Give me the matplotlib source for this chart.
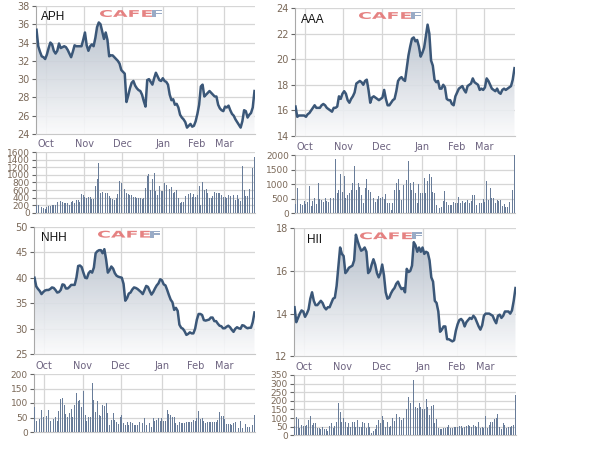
import numpy as np
import matplotlib
matplotlib.use("Agg")
import matplotlib.pyplot as plt
from matplotlib.colors import LinearSegmentedColormap
from matplotlib.patches import Polygon, PathPatch
from matplotlib.textpath import TextPath
from matplotlib.font_manager import FontProperties
from matplotlib.transforms import Affine2D

# ---------------- data ----------------
months = ["Oct", "Nov", "Dec", "Jan", "Feb", "Mar"]
month_pos = [5.5, 27.5, 49.5, 73, 92.5, 108.5]

aph_price = [
    35.4, 33.6, 33.0, 32.5, 32.4, 32.2, 32.7, 33.4, 34.0, 33.8,
    33.1, 32.8, 33.1, 33.9, 33.4, 33.5, 33.6, 33.5, 33.2, 32.8,
    32.4, 33.0, 33.7, 33.6, 33.6, 33.6, 33.6, 34.3, 35.1, 33.7,
    33.1, 33.6, 33.8, 33.6, 34.5, 35.7, 36.2, 36.0, 35.2, 34.4,
    35.1, 34.3, 32.5, 32.6, 32.6, 32.4, 32.2, 32.0, 31.7, 31.0,
    30.8, 30.6, 27.5, 28.2, 29.0, 29.6, 29.8, 29.3, 29.0, 28.8,
    28.7, 28.3, 27.6, 27.0, 29.9, 30.0, 29.7, 29.4, 30.1, 30.7,
    30.3, 29.9, 29.8, 30.1, 29.8, 29.7, 29.4, 28.3, 27.7, 27.8,
    27.2, 27.3, 26.9, 26.1, 25.8, 25.6, 25.3, 24.7, 24.9, 25.1,
    24.8, 24.9, 25.4, 26.2, 27.2, 29.2, 29.4, 28.1, 28.3, 28.5,
    28.7, 28.5, 28.3, 28.1, 28.1, 27.2, 26.8, 26.6, 26.5, 27.0,
    26.9, 27.1, 26.6, 26.2, 26.0, 25.6, 25.3, 25.0, 24.7, 25.4,
    26.6, 26.5, 25.8, 26.1, 26.3, 26.9, 28.7]
aph_vol = [
    200, 220, 180, 170, 120, 110, 170, 180, 180, 200,
    220, 200, 300, 180, 320, 280, 270, 260, 270, 220,
    300, 320, 250, 350, 340, 300, 500, 480, 420, 400,
    430, 420, 380, 380, 700, 900, 1320, 520, 560, 510,
    520, 530, 440, 400, 380, 350, 400, 500, 830, 780,
    600, 620, 520, 500, 480, 470, 420, 410, 400, 400,
    390, 380, 400, 660, 980, 1030, 600, 900, 1040, 580,
    460, 720, 580, 590, 780, 740, 800, 640, 680, 520,
    560, 600, 400, 270, 300, 300, 450, 500, 500, 520,
    430, 500, 420, 480, 700, 200, 810, 600, 640, 530,
    400, 400, 450, 550, 520, 520, 520, 480, 430, 430,
    400, 470, 450, 360, 480, 350, 460, 360, 320, 1220,
    600, 450, 450, 630, 590, 1180, 1480]

aaa_price = [
    16.3, 15.5, 15.6, 15.6, 15.6, 15.6, 15.5, 15.7, 15.8, 16.0,
    16.2, 16.4, 16.2, 16.2, 16.2, 16.4, 16.5, 16.4, 16.2, 16.1,
    16.0, 15.9, 16.2, 16.2, 16.3, 17.1, 16.9, 17.3, 17.5, 17.3,
    16.8, 16.6, 16.9, 17.1, 17.4, 18.1, 18.2, 18.3, 18.2, 18.0,
    18.3, 18.4, 17.6, 16.6, 17.0, 17.1, 17.0, 16.9, 16.8, 16.9,
    17.0, 17.6, 16.9, 16.4, 16.4, 16.6, 16.8, 16.9, 17.5, 18.3,
    18.5, 18.6, 18.4, 18.3, 19.3, 20.3, 21.0, 21.6, 21.7, 21.4,
    21.5, 21.0, 20.2, 20.5, 20.9, 21.8, 22.7, 22.0, 19.9, 19.5,
    18.4, 18.2, 18.3, 17.7, 17.7, 18.0, 17.8, 16.9, 16.8, 16.8,
    16.5, 16.4, 17.1, 17.4, 17.7, 17.8, 17.9, 17.6, 17.4, 17.9,
    18.0, 18.1, 18.5, 18.2, 18.1, 18.0, 17.6, 17.7, 17.6, 17.8,
    18.5, 18.3, 18.0, 17.7, 17.6, 17.5, 17.7, 17.4, 17.3, 17.6,
    17.7, 17.6, 17.7, 17.8, 17.9, 18.4, 19.3]
aaa_vol = [
    320, 860, 670, 320, 280, 440, 320, 400, 940, 250,
    440, 520, 320, 1060, 480, 460, 400, 520, 440, 400,
    520, 345, 520, 1860, 690, 800, 1360, 750, 1290, 520,
    630, 710, 800, 1030, 1630, 800, 1030, 920, 630, 345,
    860, 1200, 800, 750, 345, 520, 400, 480, 600, 520,
    575, 480, 670, 345, 345, 115, 345, 800, 1060, 1170,
    800, 460, 980, 1520, 1150, 1820, 1030, 800, 1090, 710,
    345, 1010, 710, 710, 1220, 710, 1130, 1360, 1260, 750,
    710, 290, 290, 170, 230, 440, 780, 400, 290, 290,
    290, 400, 345, 370, 550, 345, 440, 370, 400, 460,
    370, 440, 630, 630, 290, 860, 370, 345, 480, 400,
    1130, 460, 860, 520, 520, 345, 460, 440, 460, 250,
    320, 230, 230, 400, 440, 800, 2000]

nhh_price = [
    40.0, 38.3, 37.8, 37.4, 36.8, 37.2, 37.5, 37.6, 37.6, 37.8,
    38.1, 38.0, 37.6, 37.1, 37.2, 37.6, 38.7, 38.6, 37.9, 37.9,
    38.2, 38.6, 38.6, 38.6, 40.0, 42.3, 42.4, 42.1, 41.0, 40.0,
    39.9, 40.9, 41.3, 41.0, 42.0, 44.8, 45.2, 45.4, 45.4, 44.8,
    45.6, 43.6, 41.0, 41.5, 42.2, 41.8, 40.9, 40.4, 40.2, 40.1,
    40.0, 38.8, 35.5, 36.0, 36.9, 37.1, 37.7, 38.1, 38.0, 37.8,
    37.5, 37.2, 36.8, 37.6, 38.4, 38.2, 37.4, 36.7, 37.2, 37.9,
    38.5, 38.9, 39.7, 39.5, 38.7, 38.5, 37.6, 36.6, 35.7, 35.2,
    33.7, 34.1, 33.5, 30.8, 30.2, 30.0, 29.5, 28.8, 29.0, 29.3,
    29.1, 29.1, 30.0, 31.8, 32.9, 32.9, 32.7, 31.7, 31.6, 31.7,
    31.8, 32.2, 32.2, 31.5, 31.5, 31.0, 30.6, 30.5, 30.1, 30.1,
    30.4, 30.6, 30.3, 29.8, 29.4, 30.0, 30.3, 30.1, 30.0, 30.7,
    30.6, 30.3, 30.1, 30.2, 30.2, 31.3, 33.2]
nhh_vol = [
    85, 39, 41, 45, 76, 51, 44, 55, 76, 39,
    39, 44, 51, 39, 74, 113, 116, 92, 62, 53,
    64, 78, 51, 93, 133, 106, 110, 85, 143, 59,
    39, 51, 53, 168, 110, 70, 106, 59, 55, 93,
    91, 99, 67, 24, 41, 64, 41, 36, 28, 53,
    59, 30, 24, 34, 24, 34, 32, 23, 23, 23,
    34, 32, 32, 47, 23, 32, 32, 18, 47, 39,
    41, 47, 39, 47, 39, 39, 76, 62, 59, 53,
    51, 30, 24, 36, 30, 32, 30, 34, 34, 34,
    36, 41, 39, 47, 74, 44, 47, 39, 30, 34,
    34, 34, 34, 34, 34, 41, 70, 55, 55, 44,
    28, 28, 28, 24, 30, 34, 21, 13, 39, 13,
    28, 28, 18, 18, 18, 24, 59]

hii_price = [
    14.3, 13.6, 13.8, 14.0, 14.15, 14.1, 13.85, 14.0, 14.2, 14.7,
    15.0, 14.6, 14.4, 14.4, 14.5, 14.6, 14.5, 14.3, 14.2, 14.3,
    14.3, 14.5, 14.7, 14.75, 15.3, 16.2, 17.1, 16.8, 16.7, 15.9,
    16.0, 16.15, 16.2, 16.25, 16.5, 17.7, 17.4, 17.15, 16.95, 17.0,
    17.1, 16.9, 15.9, 16.0, 16.3, 16.55, 16.3, 15.9, 15.7, 15.9,
    16.3, 15.8, 15.0, 14.7, 14.75, 14.95, 15.1, 15.2, 15.4, 15.5,
    15.3, 15.15, 15.2, 15.0, 16.1, 15.95, 16.0, 16.25, 17.35, 17.2,
    16.9, 17.1, 16.9, 17.1, 16.8, 16.9, 16.85, 16.5, 15.7, 15.5,
    14.6, 14.5, 14.1, 13.15, 13.25, 13.4, 13.4, 12.8, 12.8, 12.75,
    12.7, 12.75, 13.2, 13.5, 13.7, 13.75, 13.65, 13.4, 13.6, 13.7,
    13.8, 13.75, 13.9, 13.8, 13.6, 13.4, 13.25, 13.45, 13.9, 14.0,
    14.0, 14.0, 13.95, 13.9, 13.7, 13.55, 13.9, 13.95, 13.8, 13.9,
    14.1, 14.1, 14.1, 14.0, 14.15, 14.6, 15.2]
hii_vol = [
    54, 106, 95, 44, 60, 54, 54, 60, 89, 112,
    60, 70, 70, 41, 41, 35, 50, 35, 35, 27,
    54, 70, 41, 54, 79, 190, 137, 79, 99, 79,
    50, 70, 50, 79, 79, 50, 89, 50, 50, 79,
    73, 41, 70, 50, 15, 27, 35, 60, 89, 70,
    112, 89, 50, 79, 50, 54, 99, 85, 124, 124,
    108, 89, 99, 259, 151, 224, 186, 176, 321, 166,
    157, 190, 166, 151, 151, 209, 166, 118, 170, 176,
    73, 93, 41, 35, 35, 41, 41, 50, 60, 41,
    41, 50, 50, 50, 54, 54, 41, 50, 54, 60,
    54, 46, 60, 54, 50, 79, 41, 50, 41, 112,
    41, 60, 79, 79, 93, 99, 124, 50, 35, 70,
    60, 41, 50, 50, 54, 60, 234]

tickers = ["APH", "AAA", "NHH", "HII"]
prices = [aph_price, aaa_price, nhh_price, hii_price]
volumes = [aph_vol, aaa_vol, nhh_vol, hii_vol]
price_ticks = [list(range(24, 39, 2)), list(range(14, 25, 2)),
               list(range(25, 51, 5)), list(range(12, 19, 2))]
vol_ticks = [list(range(0, 1601, 200)), list(range(0, 2001, 500)),
             list(range(0, 201, 50)), list(range(0, 351, 50))]

# ---------------- layout (pixels: left, top, right, bottom) ----------------
W, H = 600, 468
price_box = [(36, 6, 255, 134), (295, 8, 515, 136),
             (34, 226.7, 255, 354.3), (294, 228.3, 516, 356.3)]
vol_box = [(36, 152, 255, 213), (295, 155.3, 515, 213.3),
           (34, 374, 255, 432), (294, 375, 516, 435.3)]
label_off = [(5, 11), (6, 12), (7, 11), (12.7, 11.7)]

LINE = "#3b5778"
BAR = "#687c99"
GRID = "#d6d6d6"
YLAB = "#7a6858"
MLAB = "#6d6380"
cmap = LinearSegmentedColormap.from_list("g", ["#fbfbfc", "#a9b4c2"])

fig = plt.figure(figsize=(W / 100, H / 100), dpi=100)


def add_ax(box):
    l, t, r, b = box
    return fig.add_axes([l / W, 1 - b / H, (r - l) / W, (b - t) / H])


def style(ax):
    for s in ("top", "right"):
        ax.spines[s].set_visible(False)
    ax.spines["left"].set_color("#a8a8a8")
    ax.spines["bottom"].set_color("#c8c8c8")
    ax.grid(True, color=GRID, lw=0.9)
    ax.set_axisbelow(True)
    ax.tick_params(axis="y", length=3, width=0.8, color="#666666",
                   labelsize=7, labelcolor=YLAB, pad=1.5)
    ax.tick_params(axis="x", length=0)


def watermark(x0, y0):
    fp = FontProperties(family="DejaVu Sans", weight="bold")
    parts = [("CAFE", "#e37575", 52), ("F", "#8ea2c0", 10)]
    x = x0
    for txt, col, w in parts:
        tp = TextPath((0, 0), txt, size=10, prop=fp)
        ext = tp.get_extents()
        sx = w / ext.width
        sy = 7.0 / ext.height
        tr = Affine2D().translate(-ext.x0, -ext.y0).scale(sx, sy).translate(x, H - y0 - 7)
        patch = PathPatch(tr.transform_path(tp), facecolor=col, edgecolor="none", alpha=0.9)
        patch.set_transform(Affine2D())
        fig.add_artist(patch)
        x += w


for k in range(4):
    price = np.array(prices[k], dtype=float)
    vol = np.array(volumes[k], dtype=float)
    xp = np.arange(len(price))
    xv = np.arange(len(vol))
    xmax = max(len(price), len(vol)) - 1
    yt = price_ticks[k]
    ymin, ymax = yt[0], yt[-1]

    ax = add_ax(price_box[k])
    style(ax)
    poly = Polygon([(0, ymin)] + list(zip(xp, price)) + [(xp[-1], ymin)],
                   closed=True, facecolor="none", edgecolor="none")
    ax.add_patch(poly)
    grad = np.linspace(1, 0, 256).reshape(-1, 1)
    im = ax.imshow(grad, extent=[0, xmax, ymin, ymax], aspect="auto",
                   cmap=cmap, origin="upper", zorder=1, alpha=0.9)
    im.set_clip_path(poly)
    ax.plot(xp, price, color=LINE, lw=1.8, zorder=3, solid_joinstyle="round")
    ax.set_xlim(-0.3, xmax + 0.3)
    ax.set_ylim(ymin, ymax)
    ax.set_yticks(yt)
    ax.set_xticks(month_pos)
    ax.set_xticklabels([])
    l, t, r, b = price_box[k]
    ax.text(label_off[k][0] / (r - l), 1 - label_off[k][1] / (b - t), tickers[k],
            transform=ax.transAxes, ha="left", va="center",
            fontsize=8.5, family="Liberation Sans", color="#111111", zorder=5)
    watermark(l + 64 if k % 2 == 0 or k == 1 else l + 66, t + 4)

    axv = add_ax(vol_box[k])
    style(axv)
    axv.bar(xv, vol, width=0.55, color=BAR, zorder=3)
    axv.set_xlim(-0.3, xmax + 0.3)
    vt = vol_ticks[k]
    axv.set_ylim(vt[0], vt[-1])
    axv.set_yticks(vt)
    axv.tick_params(axis="y", labelsize=6.5)
    axv.set_xticks(month_pos)
    axv.set_xticklabels(months)
    axv.tick_params(axis="x", top=True, labeltop=True, bottom=False,
                    labelbottom=False, length=0, pad=2.5, labelsize=7,
                    labelcolor=MLAB)

fig.savefig("out.png", dpi=100)
